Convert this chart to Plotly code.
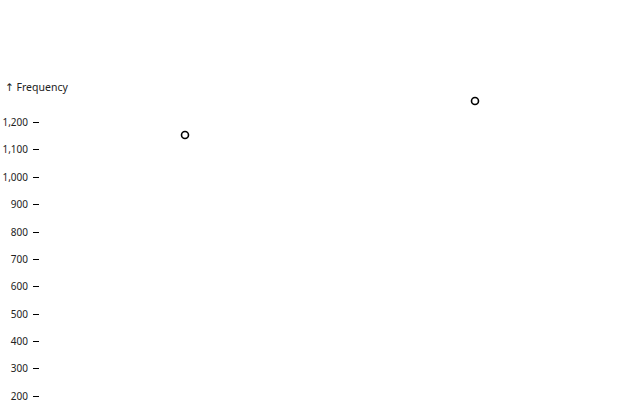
"""
    Two-point dot chart of frequency
"""

import plotly.graph_objects as go

# data
categories = ["A", "B"]
frequency = [1155, 1279]
y_ticks = [200, 300, 400, 500, 600, 700, 800, 900, 1000, 1100, 1200]


def plot(cats, values, title):
    trace = go.Scatter(
        x=cats, y=values, mode="markers",
        marker={"symbol": "circle", "size": 7, "color": "white",
                "line": {"color": "black", "width": 1.6}},
        cliponaxis=False,
    )
    # figure is a bit taller than the window so the bottom is cut like the original
    layout = go.Layout(
        width=640, height=412,
        margin={"l": 40, "r": 20, "t": 95, "b": 0},
        paper_bgcolor="white", plot_bgcolor="white",
        font={"family": "Noto Sans", "size": 10, "color": "#222"},
        showlegend=False,
        xaxis={"type": "category", "range": [-0.5, 1.5], "visible": False},
        yaxis={"range": [142, 1301], "tickvals": y_ticks, "tickformat": ",",
               "ticks": "outside", "ticklen": 6, "tickcolor": "black",
               "tickwidth": 1, "ticklabelstandoff": 3, "automargin": False,
               "showgrid": False, "zeroline": False, "showline": False},
        annotations=[{"text": "<span style='font-family:DejaVu Sans'>↑</span> " + title,
                      "xref": "paper", "yref": "paper",
                      "x": 0, "y": 1, "xanchor": "left", "yanchor": "middle",
                      "xshift": -37, "yshift": 8, "showarrow": False,
                      "font": {"size": 10.5}}],
    )
    fig = go.Figure(data=[trace], layout=layout)
    # the page body has a default 8px margin; drop it so the figure sits at 0,0
    fig.write_html("out.html", config={"displayModeBar": False},
                   post_script="document.body.style.margin='0';"
                               "document.body.style.overflow='hidden';")


if __name__ == "__main__":
    plot(categories, frequency, "Frequency")
